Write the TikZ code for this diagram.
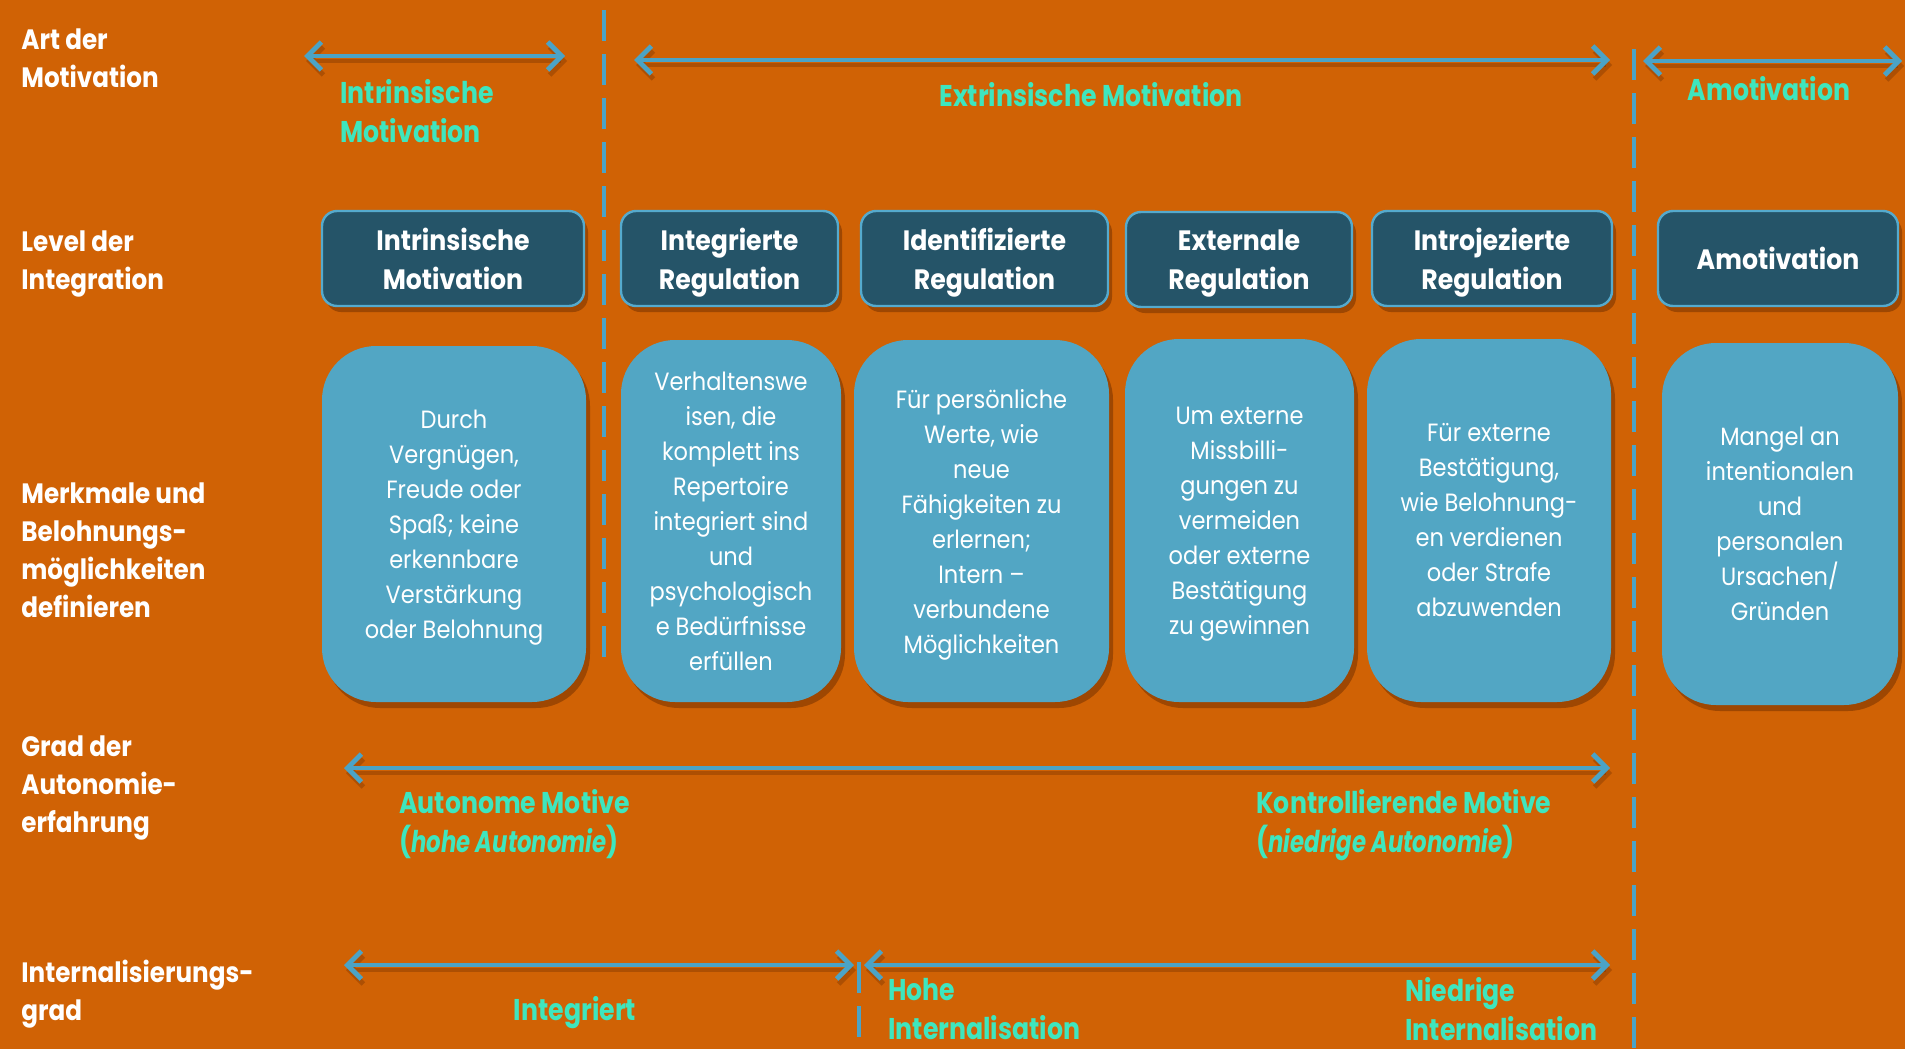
\documentclass[tikz,border=0pt]{standalone}
\usepackage{fontspec}
\setmainfont[FakeStretch=0.9]{Poppins}
\newfontfamily\gfont[FakeStretch=0.84]{Poppins}
\newfontfamily\gnarrow[FakeStretch=0.76]{Poppins}
\newfontfamily\lfont[FakeStretch=0.88]{Poppins}
\usetikzlibrary{arrows.meta,shadows}
\definecolor{bgc}{RGB}{208,98,5}
\definecolor{headc}{RGB}{37,84,104}
\definecolor{headline}{RGB}{85,170,205}
\definecolor{boxc}{RGB}{82,166,196}
\definecolor{arrowc}{RGB}{75,163,198}
\definecolor{greenc}{RGB}{62,230,190}
\definecolor{shadc}{RGB}{110,45,0}
\newcommand{\nd}[1]{\raisebox{0pt}[\height][0pt]{#1}}
\newcommand{\gital}[1]{{\gnarrow\bfseries\itshape #1}}
\begin{document}
\begin{tikzpicture}[x=0.5pt,y=-0.5pt,
  lab/.style={anchor=west,align=left,text=white,inner sep=0pt,
    font=\lfont\fontsize{14pt}{19pt}\selectfont\bfseries},
  headbox/.style={draw=headline,line width=1.2pt,fill=headc,rounded corners=7.5pt,
    minimum height=47.5pt,inner sep=0pt,align=center,text=white,
    font=\fontsize{14pt}{19.5pt}\selectfont\bfseries,
    drop shadow={shadow xshift=2pt,shadow yshift=-3pt,fill=shadc,opacity=0.5}},
  contbox/.style={fill=boxc,rounded corners=27pt,inner sep=0pt,align=center,text=white,
    font=\fontsize{12.5pt}{17.5pt}\selectfont,
    drop shadow={shadow xshift=2pt,shadow yshift=-3pt,fill=shadc,opacity=0.5}},
  glab/.style={align=left,text=greenc,inner sep=0pt,
    font=\gfont\fontsize{15pt}{19.5pt}\selectfont\bfseries},
  dbl/.style={draw=arrowc,line width=2.4pt,
    {Straight Barb[length=7pt,width=14pt,line width=2.4pt]}-{Straight Barb[length=7pt,width=14pt,line width=2.4pt]},
    preaction={draw=shadc,draw opacity=0.35,line width=2.4pt,transform canvas={xshift=1pt,yshift=-2.5pt}}},
  divider/.style={draw=arrowc,line width=1.6pt,dash pattern=on 15.5pt off 6.5pt}
]
\useasboundingbox[fill=bgc] (0,0) rectangle (1905,1049);

% dividers
\draw[divider] (604,10) -- (604,668);
\draw[divider] (1634,49) -- (1634,1049);
\draw[divider] (859,962) -- (859,1049);

% left labels
\node[lab] (l1) at (21,58) {Art der\\Motivation};
\node[lab] (l2) at (21,260) {Level der\\\nd{Integration}};
\node[lab] (l3) at (21,550) {Merkmale und\\Belohnungs-\\möglichkeiten\\definieren};
\node[lab] (l4) at (21,784) {Grad der\\Autonomie-\\\nd{erfahrung}};
\node[lab] (l5) at (21,990) {Internalisierungs-\\\nd{grad}};

% top arrows
\coordinate (a1l) at (304,56); \coordinate (a1r) at (565,56);
\coordinate (a2l) at (634,60); \coordinate (a2r) at (1610,60);
\coordinate (a3l) at (1643,61); \coordinate (a3r) at (1902,61);
\draw[dbl] (a1l) -- (a1r);
\draw[dbl] (a2l) -- (a2r);
\draw[dbl] (a3l) -- (a3r);

\node[glab,anchor=west] (g1) at (340,111) {Intrinsische\\Motivation};
\node[glab] (g2) at (1091,95) {Extrinsische Motivation};
\node[glab] (g3) at (1769,89) {Amotivation};

% header boxes
\node[headbox,minimum width=131pt] (h1) at (453,258.5) {Intrinsische\\Motivation};
\node[headbox,minimum width=108.5pt] (h2) at (729.5,258.5) {Integrierte\\\nd{Regulation}};
\node[headbox,minimum width=123.5pt] (h3) at (984.5,258.5) {Identifizierte\\\nd{Regulation}};
\node[headbox,minimum width=113pt] (h4) at (1239,259.5) {Externale\\\nd{Regulation}};
\node[headbox,minimum width=120pt] (h5) at (1492,258.5) {Introjezierte\\\nd{Regulation}};
\node[headbox,minimum width=120pt] (h6) at (1778,258.5) {Amotivation};

% content boxes
\node[contbox,minimum width=132pt,minimum height=178pt] (c1) at (454,524)
  {Durch\\Vergnügen,\\Freude oder\\Spaß; keine\\erkennbare\\Verstärkung\\\nd{oder Belohnung}};
\node[contbox,minimum width=110pt,minimum height=181pt] (c2) at (731,521)
  {Verhaltenswe\\isen, die\\komplett ins\\Repertoire\\integriert sind\\und\\psychologisch\\e Bedürfnisse\\erfüllen};
\node[contbox,minimum width=127.5pt,minimum height=181pt] (c3) at (981.5,521)
  {Für persönliche\\Werte, wie\\neue\\Fähigkeiten zu\\erlernen;\\Intern –\\verbundene\\\nd{Möglichkeiten}};
\node[contbox,minimum width=114.5pt,minimum height=181.5pt] (c4) at (1239.5,520.5)
  {Um externe\\Missbilli-\\gungen zu\\vermeiden\\oder externe\\Bestätigung\\\nd{zu gewinnen}};
\node[contbox,minimum width=122pt,minimum height=181.5pt] (c5) at (1489,520.5)
  {Für externe\\Bestätigung,\\wie Belohnung-\\en verdienen\\oder Strafe\\abzuwenden};
\node[contbox,minimum width=118pt,minimum height=181pt] (c6) at (1780,524)
  {Mangel an\\intentionalen\\und\\personalen\\Ursachen/\\Gründen};

% bottom arrows
\coordinate (b1l) at (344,768); \coordinate (b1r) at (1610,768);
\coordinate (b2l) at (344,965); \coordinate (b2r) at (854,965);
\coordinate (b3l) at (864,965); \coordinate (b3r) at (1610,965);
\draw[dbl] (b1l) -- (b1r);
\draw[dbl] (b2l) -- (b2r);
\draw[dbl] (b3l) -- (b3r);

\node[glab,anchor=west] (g4) at (399,821) {Autonome Motive\\\nd{(\gital{hohe Autonomie})}};
\node[glab,anchor=west] (g5) at (1256,821) {Kontrollierende Motive\\\nd{(\gital{niedrige Autonomie})}};
\node[glab] (g6) at (575,1008) {\nd{Integriert}};
\node[glab,anchor=west] (g7) at (888,1009) {Hohe\\Internalisation};
\node[glab,anchor=west] (g8) at (1405,1009) {Niedrige\\Internalisation};
\end{tikzpicture}
\end{document}
